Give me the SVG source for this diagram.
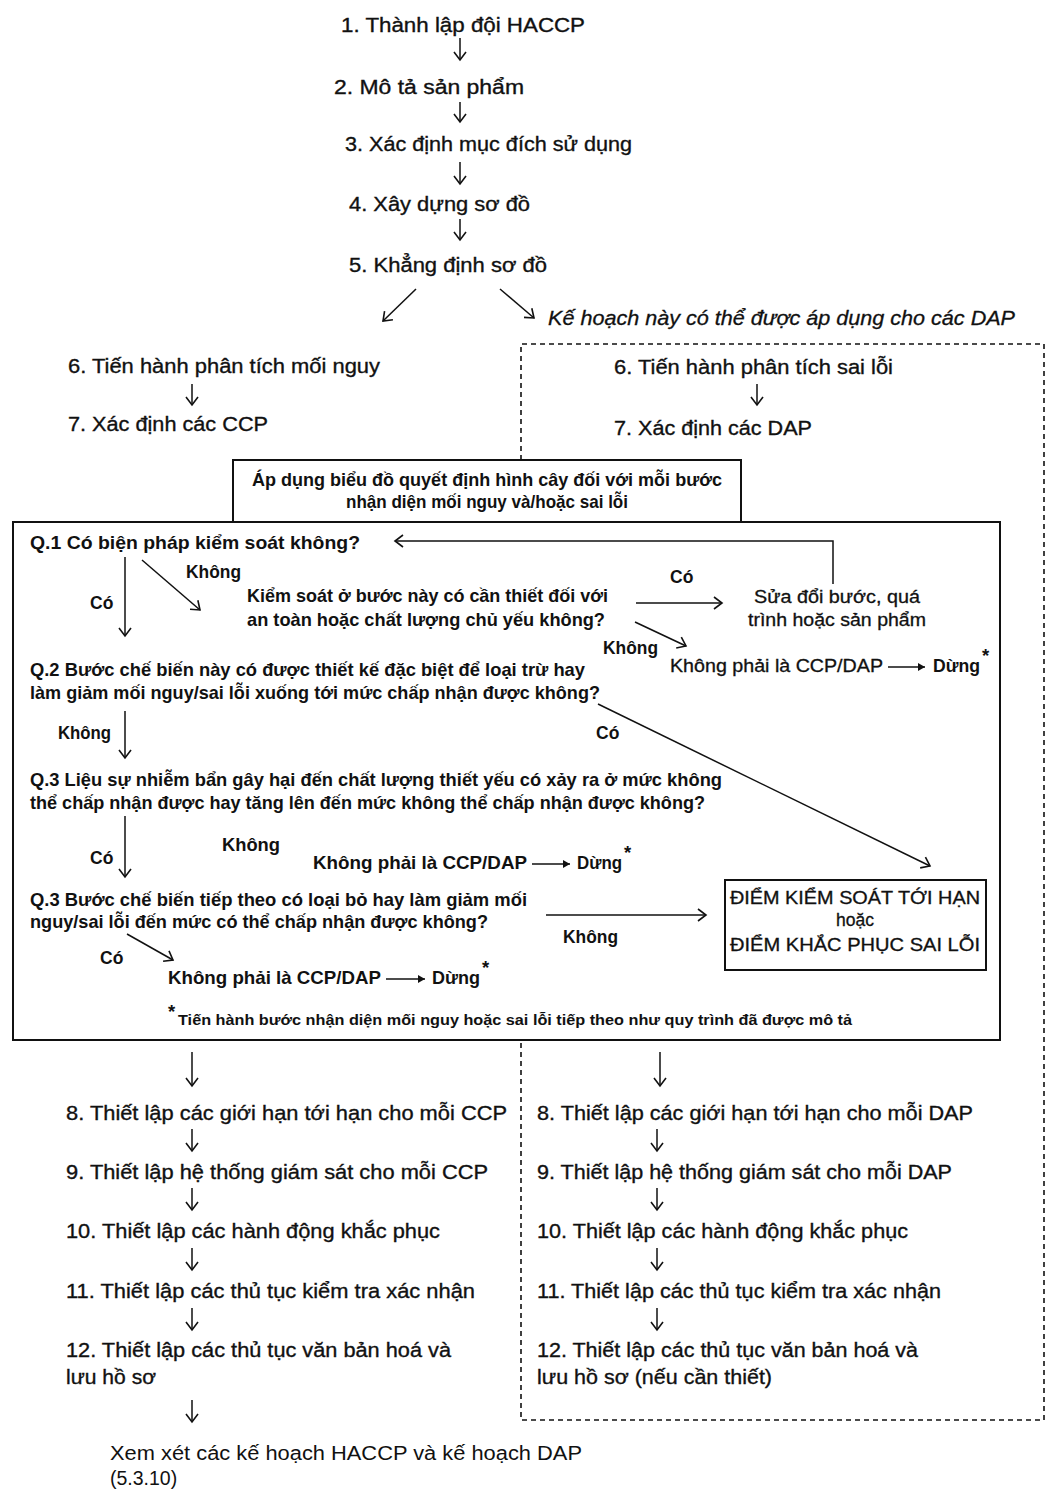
<svg xmlns="http://www.w3.org/2000/svg" width="1050" height="1490" viewBox="0 0 1050 1490">
  <defs>
    <marker id="head" markerUnits="userSpaceOnUse" markerWidth="16" markerHeight="16" refX="12" refY="8" orient="auto">
      <path d="M4,2 L12,8 L4,14" fill="none" stroke="#111" stroke-width="1.6"/>
    </marker>
    <marker id="small" markerUnits="userSpaceOnUse" markerWidth="10" markerHeight="10" refX="8" refY="5" orient="auto">
      <path d="M1,1 L8,5 L1,9 Z" fill="#111"/>
    </marker>
  </defs>
  <style>
    text { font-family: "Liberation Sans", Arial, "Noto Sans", sans-serif; fill: #111; }
    .step { font-size: 20.5px; stroke: #111; stroke-width: 0.35; }
    .box { font-size: 18.5px; font-weight: bold; }
    .lbl { font-size: 17.5px; font-weight: bold; }
    .plain { font-size: 17.5px; font-weight: normal; stroke: #111; stroke-width: 0.3; }
    .note { font-size: 14px; font-weight: bold; }
    .it { font-size: 20px; font-style: italic; stroke: #111; stroke-width: 0.3; }
    .light { font-size: 19.5px; }
    .mid { text-anchor: middle; }
    .ar { stroke: #111; stroke-width: 1.5; fill: none; marker-end: url(#head); }
    .dash { stroke: #111; stroke-width: 1.6; fill: none; stroke-dasharray: 5 4; }
    .frame { stroke: #111; stroke-width: 2; fill: none; }
    .st { stroke: #111; stroke-width: 1.3; fill: none; marker-end: url(#small); }
  </style>
  <rect width="1050" height="1490" fill="#fff"/>

  <!-- preliminary steps -->
  <g id="s1"><text class="step" x="341" y="32" textLength="244" lengthAdjust="spacingAndGlyphs">1. Thành lập đội HACCP</text></g>
  <g id="s2"><text class="step" x="334" y="94" textLength="190" lengthAdjust="spacingAndGlyphs">2. Mô tả sản phẩm</text></g>
  <g id="s3"><text class="step" x="345" y="151" textLength="287" lengthAdjust="spacingAndGlyphs">3. Xác định mục đích sử dụng</text></g>
  <g id="s4"><text class="step" x="349" y="211" textLength="181" lengthAdjust="spacingAndGlyphs">4. Xây dựng sơ đồ</text></g>
  <g id="s5"><text class="step" x="349" y="272" textLength="198" lengthAdjust="spacingAndGlyphs">5. Khẳng định sơ đồ</text></g>
  <g id="dap-note"><text class="it" x="548" y="325" textLength="467" lengthAdjust="spacingAndGlyphs">Kế hoạch này có thể được áp dụng cho các DAP</text></g>

  <!-- hazard column, steps 6-7 -->
  <g id="h6"><text class="step" x="68" y="373" textLength="312" lengthAdjust="spacingAndGlyphs">6. Tiến hành phân tích mối nguy</text></g>
  <g id="h7"><text class="step" x="68" y="431" textLength="200" lengthAdjust="spacingAndGlyphs">7. Xác định các CCP</text></g>
  <!-- defect column, steps 6-7 -->
  <g id="d6"><text class="step" x="614" y="374" textLength="279" lengthAdjust="spacingAndGlyphs">6. Tiến hành phân tích sai lỗi</text></g>
  <g id="d7"><text class="step" x="614" y="435" textLength="198" lengthAdjust="spacingAndGlyphs">7. Xác định các DAP</text></g>

  <!-- dashed outline of the DAP plan -->
  <g id="dap-frame">
    <path class="dash" d="M521,460 V344 H1044 V1420 H521 V1040"/>
  </g>

  <!-- decision tree header -->
  <g id="tree-head">
    <rect class="frame" x="233" y="460" width="508" height="62"/>
    <text class="box mid" x="487" y="486" textLength="470" lengthAdjust="spacingAndGlyphs">Áp dụng biểu đồ quyết định hình cây đối với mỗi bước</text>
    <text class="box mid" x="487" y="508" textLength="282" lengthAdjust="spacingAndGlyphs">nhận diện mối nguy và/hoặc sai lỗi</text>
  </g>

  <!-- decision tree body -->
  <g id="tree">
    <rect class="frame" x="13" y="522" width="987" height="518"/>
  </g>

  <g id="q1"><text class="box" x="30" y="549" textLength="330" lengthAdjust="spacingAndGlyphs">Q.1  Có biện pháp kiểm soát không?</text></g>
  <g id="q1b">
    <text class="box" x="247" y="602" textLength="361" lengthAdjust="spacingAndGlyphs">Kiểm soát ở bước này có cần thiết đối với</text>
    <text class="box" x="247" y="626" textLength="358" lengthAdjust="spacingAndGlyphs">an toàn hoặc chất lượng chủ yếu không?</text>
  </g>
  <g id="modify">
    <text class="plain mid" x="837" y="603" textLength="166" lengthAdjust="spacingAndGlyphs">Sửa đổi bước, quá</text>
    <text class="plain mid" x="837" y="626" textLength="178" lengthAdjust="spacingAndGlyphs">trình hoặc sản phẩm</text>
  </g>
  <g id="stop1">
    <text class="plain" x="670" y="672" textLength="213" lengthAdjust="spacingAndGlyphs">Không phải là CCP/DAP</text>
    <text class="box" x="933" y="672" textLength="47" lengthAdjust="spacingAndGlyphs">Dừng</text>
    <text class="box" x="982" y="662" font-size="11">*</text>
  </g>
  <g id="q2">
    <text class="box" x="30" y="676" textLength="555" lengthAdjust="spacingAndGlyphs">Q.2  Bước chế biến này có được thiết kế đặc biệt để loại trừ hay</text>
    <text class="box" x="30" y="699" textLength="570" lengthAdjust="spacingAndGlyphs">làm giảm mối nguy/sai lỗi xuống tới mức chấp nhận được không?</text>
  </g>
  <g id="q3">
    <text class="box" x="30" y="786" textLength="692" lengthAdjust="spacingAndGlyphs">Q.3  Liệu sự nhiễm bẩn gây hại đến chất lượng thiết yếu có xảy ra ở mức không</text>
    <text class="box" x="30" y="809" textLength="675" lengthAdjust="spacingAndGlyphs">thể chấp nhận được hay tăng lên đến mức không thể chấp nhận được không?</text>
  </g>
  <g id="stop2">
    <text class="box" x="313" y="869" textLength="214" lengthAdjust="spacingAndGlyphs">Không phải là CCP/DAP</text>
    <text class="box" x="577" y="869" textLength="45" lengthAdjust="spacingAndGlyphs">Dừng</text>
    <text class="box" x="624" y="859" font-size="11">*</text>
  </g>
  <g id="q4">
    <text class="box" x="30" y="906" textLength="497" lengthAdjust="spacingAndGlyphs">Q.3  Bước chế biến tiếp theo có loại bỏ hay làm giảm mối</text>
    <text class="box" x="30" y="928" textLength="458" lengthAdjust="spacingAndGlyphs">nguy/sai lỗi đến mức có thể chấp nhận được không?</text>
  </g>
  <g id="ccp">
    <rect class="frame" x="725" y="880" width="261" height="90"/>
    <text class="plain mid" x="855" y="904" textLength="250" lengthAdjust="spacingAndGlyphs">ĐIỂM KIỂM SOÁT TỚI HẠN</text>
    <text class="plain mid" x="855" y="926">hoặc</text>
    <text class="plain mid" x="855" y="951" textLength="250" lengthAdjust="spacingAndGlyphs">ĐIỂM KHẮC PHỤC SAI LỖI</text>
  </g>
  <g id="stop3">
    <text class="box" x="168" y="984" textLength="213" lengthAdjust="spacingAndGlyphs">Không phải là CCP/DAP</text>
    <text class="box" x="432" y="984" textLength="48" lengthAdjust="spacingAndGlyphs">Dừng</text>
    <text class="box" x="482" y="974" font-size="11">*</text>
  </g>
  <g id="footnote">
    <text class="box" x="168" y="1018" font-size="10">*</text>
    <text class="note" x="178" y="1025" textLength="674" lengthAdjust="spacingAndGlyphs">Tiến hành bước nhận diện mối nguy hoặc sai lỗi tiếp theo như quy trình đã được mô tả</text>
  </g>

  <!-- hazard column, steps 8-12 -->
  <g id="h8"><text class="step" x="66" y="1120" textLength="441" lengthAdjust="spacingAndGlyphs">8. Thiết lập các giới hạn tới hạn cho mỗi CCP</text></g>
  <g id="h9"><text class="step" x="66" y="1179" textLength="422" lengthAdjust="spacingAndGlyphs">9. Thiết lập hệ thống giám sát cho mỗi CCP</text></g>
  <g id="h10"><text class="step" x="66" y="1238" textLength="374" lengthAdjust="spacingAndGlyphs">10. Thiết lập các hành động khắc phục</text></g>
  <g id="h11"><text class="step" x="66" y="1298" textLength="409" lengthAdjust="spacingAndGlyphs">11. Thiết lập các thủ tục kiểm tra xác nhận</text></g>
  <g id="h12">
    <text class="step" x="66" y="1357" textLength="385" lengthAdjust="spacingAndGlyphs">12. Thiết lập các thủ tục văn bản hoá và</text>
    <text class="step" x="66" y="1384" textLength="90" lengthAdjust="spacingAndGlyphs">lưu hồ sơ</text>
  </g>
  <!-- defect column, steps 8-12 -->
  <g id="d8"><text class="step" x="537" y="1120" textLength="436" lengthAdjust="spacingAndGlyphs">8. Thiết lập các giới hạn tới hạn cho mỗi DAP</text></g>
  <g id="d9"><text class="step" x="537" y="1179" textLength="415" lengthAdjust="spacingAndGlyphs">9. Thiết lập hệ thống giám sát cho mỗi DAP</text></g>
  <g id="d10"><text class="step" x="537" y="1238" textLength="371" lengthAdjust="spacingAndGlyphs">10. Thiết lập các hành động khắc phục</text></g>
  <g id="d11"><text class="step" x="537" y="1298" textLength="404" lengthAdjust="spacingAndGlyphs">11. Thiết lập các thủ tục kiểm tra xác nhận</text></g>
  <g id="d12">
    <text class="step" x="537" y="1357" textLength="381" lengthAdjust="spacingAndGlyphs">12. Thiết lập các thủ tục văn bản hoá và</text>
    <text class="step" x="537" y="1384" textLength="235" lengthAdjust="spacingAndGlyphs">lưu hồ sơ (nếu cần thiết)</text>
  </g>

  <g id="review">
    <text class="light" x="110" y="1460" textLength="472" lengthAdjust="spacingAndGlyphs">Xem xét các kế hoạch HACCP và kế hoạch DAP</text>
    <text class="light" x="110" y="1485">(5.3.10)</text>
  </g>

  <!-- connectors -->
  <g id="connectors">
    <line class="ar" x1="460" y1="38" x2="460" y2="60"/>
    <line class="ar" x1="460" y1="102" x2="460" y2="122"/>
    <line class="ar" x1="460" y1="162" x2="460" y2="184"/>
    <line class="ar" x1="460" y1="219" x2="460" y2="240"/>
    <line class="ar" x1="416" y1="289" x2="383" y2="321"/>
    <line class="ar" x1="500" y1="289" x2="534" y2="318"/>
    <line class="ar" x1="192" y1="384" x2="192" y2="405"/>
    <line class="ar" x1="757" y1="384" x2="757" y2="405"/>

    <!-- decision tree -->
    <polyline class="ar" points="833,584 833,541 395,541"/>
    <line class="ar" x1="125" y1="557" x2="125" y2="636"/>
    <line class="ar" x1="142" y1="560" x2="200" y2="610"/>
    <line class="ar" x1="636" y1="603" x2="722" y2="603"/>
    <line class="ar" x1="635" y1="622" x2="686" y2="646"/>
    <line class="ar" x1="125" y1="711" x2="125" y2="758"/>
    <line class="ar" x1="598" y1="704" x2="930" y2="866"/>
    <line class="ar" x1="125" y1="816" x2="125" y2="877"/>
    <line class="ar" x1="546" y1="915" x2="706" y2="915"/>
    <line class="ar" x1="127" y1="934" x2="173" y2="960"/>
    <line class="st" x1="888" y1="667" x2="925" y2="667"/>
    <line class="st" x1="532" y1="864" x2="570" y2="864"/>
    <line class="st" x1="386" y1="979" x2="425" y2="979"/>

    <!-- branch labels -->
    <text class="lbl" x="186" y="578" textLength="55" lengthAdjust="spacingAndGlyphs">Không</text>
    <text class="lbl" x="90" y="609">Có</text>
    <text class="lbl" x="670" y="583">Có</text>
    <text class="lbl" x="603" y="654" textLength="55" lengthAdjust="spacingAndGlyphs">Không</text>
    <text class="lbl" x="58" y="739" textLength="53" lengthAdjust="spacingAndGlyphs">Không</text>
    <text class="lbl" x="596" y="739">Có</text>
    <text class="lbl" x="222" y="851" textLength="58" lengthAdjust="spacingAndGlyphs">Không</text>
    <text class="lbl" x="90" y="864">Có</text>
    <text class="lbl" x="563" y="943" textLength="55" lengthAdjust="spacingAndGlyphs">Không</text>
    <text class="lbl" x="100" y="964">Có</text>

    <line class="ar" x1="192" y1="1052" x2="192" y2="1086"/>
    <line class="ar" x1="660" y1="1052" x2="660" y2="1086"/>
    <line class="ar" x1="192" y1="1129" x2="192" y2="1151"/>
    <line class="ar" x1="192" y1="1188" x2="192" y2="1210"/>
    <line class="ar" x1="192" y1="1248" x2="192" y2="1270"/>
    <line class="ar" x1="192" y1="1308" x2="192" y2="1330"/>
    <line class="ar" x1="192" y1="1400" x2="192" y2="1422"/>
    <line class="ar" x1="657" y1="1129" x2="657" y2="1151"/>
    <line class="ar" x1="657" y1="1188" x2="657" y2="1210"/>
    <line class="ar" x1="657" y1="1248" x2="657" y2="1270"/>
    <line class="ar" x1="657" y1="1308" x2="657" y2="1330"/>
  </g>
</svg>
